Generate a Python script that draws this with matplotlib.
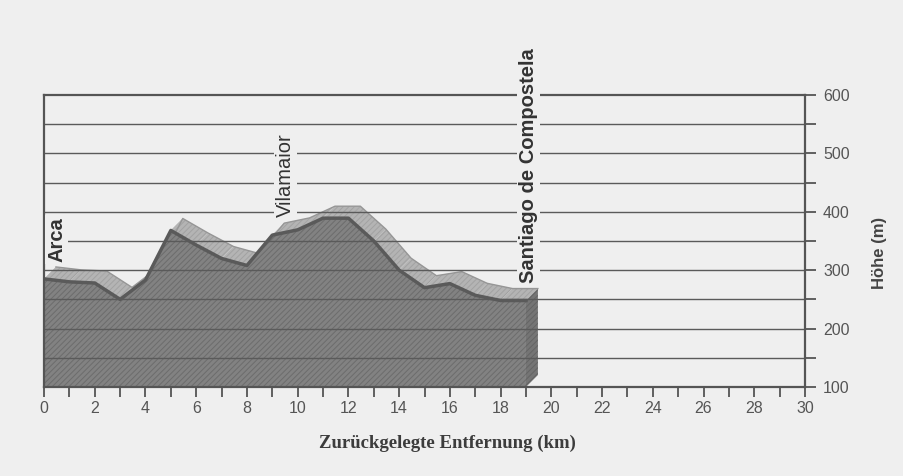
import numpy as np
import matplotlib.pyplot as plt
from matplotlib.ticker import MultipleLocator

# Hoehenprofil Arca -> Santiago de Compostela
km = [0, 1, 2, 3, 4, 5, 6, 7, 8, 9, 10, 11, 12, 13, 14, 15, 16, 17, 18, 19]
hoehe = [285, 280, 278, 250, 283, 368, 343, 320, 308, 360, 369, 389, 389, 350, 300, 270, 277, 257, 248, 248]

orte = ['Arca', 'Vilamaior', 'Santiago de Compostela']
orte_km = [0.5, 9.52, 19.1]
orte_h = [314, 391, 278]
orte_bold = [True, False, True]

bg = '#efefef'
plt.rcParams['hatch.linewidth'] = 0.7

fig = plt.figure(figsize=(9.04, 4.76), dpi=100, facecolor=bg)
ax = fig.add_axes([0.0487, 0.187, 0.8418, 0.6136])
ax.set_facecolor(bg)

x = np.array(km, dtype=float)
y = np.array(hoehe, dtype=float)
dx, dy = 0.47, 20.5  # 3D-Versatz
boden = 100

# Oberseite (hell)
for i in range(len(x) - 1):
    qx = [x[i], x[i + 1], x[i + 1] + dx, x[i] + dx]
    qy = [y[i], y[i + 1], y[i + 1] + dy, y[i] + dy]
    ax.fill(qx, qy, facecolor='#b4b4b4', edgecolor='#a2a2a2', lw=0, hatch='//////', zorder=2)
ax.plot(x + dx, y + dy, color='#969696', lw=1, zorder=2.1)

# Seitenflaeche rechts
sx = [x[-1], x[-1] + dx, x[-1] + dx, x[-1]]
sy = [boden, boden + dy, y[-1] + dy, y[-1]]
ax.fill(sx, sy, facecolor='#757575', edgecolor='#646464', lw=0, hatch='//////', zorder=2)

# Vorderseite (dunkel)
ax.fill(np.r_[x, x[-1], x[0]], np.r_[y, boden, boden], facecolor='#828282',
        edgecolor='#6c6c6c', lw=0, hatch='//////', zorder=2.2)
ax.plot(x, y, color='#5a5a5a', lw=2.5, zorder=2.3, solid_joinstyle='round')

# Gitter
for g in range(150, 600, 50):
    ax.axhline(g, color='#5a5a5a', lw=1, zorder=3)

ax.set_xlim(0, 30)
ax.set_ylim(100, 600)
ax.xaxis.set_major_locator(MultipleLocator(2))
ax.xaxis.set_minor_locator(MultipleLocator(1))
ax.yaxis.set_major_locator(MultipleLocator(100))
ax.yaxis.set_minor_locator(MultipleLocator(50))
ax.yaxis.tick_right()
ax.yaxis.set_label_position('right')
ax.tick_params(axis='x', which='both', direction='out', length=7, width=1.3,
               color='#555555', labelcolor='#555555', labelsize=11.5, pad=3)
ax.tick_params(axis='y', which='both', direction='out', length=8, width=1.3,
               color='#555555', labelcolor='#555555', labelsize=11.5, pad=5)
for lab in ax.get_xticklabels() + ax.get_yticklabels():
    lab.set_family(['Liberation Sans Narrow', 'Liberation Sans', 'DejaVu Sans'])
for s in ax.spines.values():
    s.set_color('#555555')
    s.set_linewidth(1.6)
    s.set_zorder(3.5)

ax.set_xlabel('Zurückgelegte Entfernung (km)', family=['Liberation Serif', 'DejaVu Serif'],
              fontweight='bold', fontsize=13.5, color='#3c3c3c', labelpad=4)
ax.xaxis.set_label_coords(0.53, -0.165)
ax.set_ylabel('Höhe (m)', family=['Liberation Sans', 'DejaVu Sans'], fontweight='bold',
              fontsize=12, color='#444444', rotation=90, labelpad=12)
ax.yaxis.set_label_coords(1.088, 0.46)

for name, ox, oh, fett in zip(orte, orte_km, orte_h, orte_bold):
    ax.text(ox, oh, name, rotation=90, ha='center', va='bottom', fontsize=14.5,
            family=['Liberation Sans', 'DejaVu Sans'], fontweight='bold' if fett else 'normal',
            color='#333333', zorder=5, clip_on=False,
            bbox=dict(facecolor=bg, edgecolor='none', pad=1.5))

fig.savefig('out.png', dpi=100, facecolor=bg)
